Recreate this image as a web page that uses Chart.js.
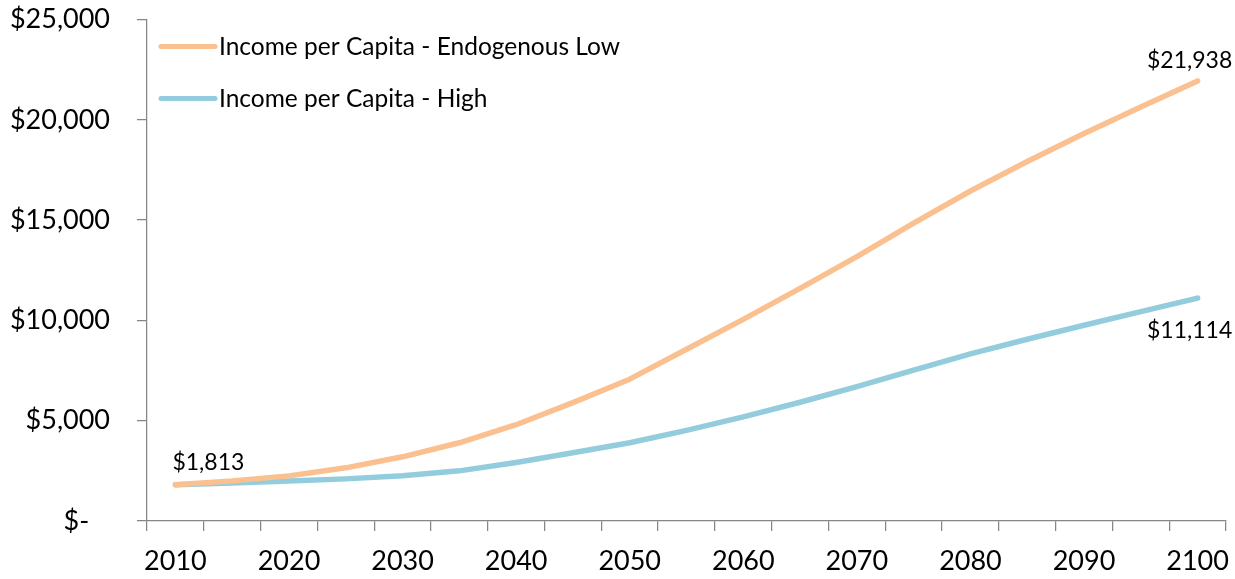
<!DOCTYPE html>
<html>
<head>
<meta charset="utf-8">
<title>Income per Capita</title>
<script src="https://cdn.jsdelivr.net/npm/chart.js@4.4.1/dist/chart.umd.min.js"></script>
<style>
  html, body { margin: 0; padding: 0; background: #ffffff; }
  canvas { display: block; }
</style>
</head>
<body>
<canvas id="chart" width="1235" height="579"></canvas>
<script>
// Five-year steps, 2010–2100
const years = [2010, 2015, 2020, 2025, 2030, 2035, 2040, 2045, 2050, 2055,
               2060, 2065, 2070, 2075, 2080, 2085, 2090, 2095, 2100];
// Years that carry a visible axis label
const labelledYears = [2010, 2020, 2030, 2040, 2050, 2060, 2070, 2080, 2090, 2100];

const endogenousLow = [1813, 2000, 2250, 2650, 3200, 3900, 4800, 5900, 7070, 8560,
                       10050, 11600, 13180, 14850, 16450, 17920, 19320, 20640, 21938];
const high = [1813, 1900, 2000, 2100, 2260, 2500, 2920, 3400, 3900, 4520,
              5190, 5920, 6700, 7520, 8330, 9060, 9760, 10440, 11114];

const seriesNames = ['Income per Capita - Endogenous Low', 'Income per Capita - High'];
const seriesColors = ['#FAC090', '#93CDDD'];

const yTickValues = [0, 5000, 10000, 15000, 20000, 25000];
const yTickLabels = ['$-', '$5,000', '$10,000', '$15,000', '$20,000', '$25,000'];

const AXIS_COLOR = '#868686';
const FONT = 'Lato';

const money = v => '$' + v.toLocaleString('en-US');

// Legend drawn inside the plot area, top-left, one entry per row
const insideLegend = {
  id: 'insideLegend',
  afterDraw(chart) {
    const { ctx, chartArea } = chart;
    ctx.save();
    ctx.font = '24.5px ' + FONT;
    ctx.fillStyle = '#000000';
    ctx.textAlign = 'left';
    ctx.textBaseline = 'alphabetic';
    chart.data.datasets.forEach((ds, i) => {
      const y = chartArea.top + 27 + i * 52;
      const x0 = chartArea.left + 14;
      ctx.strokeStyle = ds.borderColor;
      ctx.lineWidth = 5;
      ctx.lineCap = 'round';
      ctx.beginPath();
      ctx.moveTo(x0, y);
      ctx.lineTo(x0 + 54, y);
      ctx.stroke();
      ctx.fillText(ds.label, x0 + 58, y + 8);
    });
    ctx.restore();
  }
};

// Value labels at the first and last points
const valueLabels = {
  id: 'valueLabels',
  afterDatasetsDraw(chart) {
    const ctx = chart.ctx;
    const low = chart.getDatasetMeta(0).data;
    const hi = chart.getDatasetMeta(1).data;
    const last = years.length - 1;
    ctx.save();
    ctx.font = '23px ' + FONT;
    ctx.fillStyle = '#000000';
    ctx.textBaseline = 'middle';

    ctx.textAlign = 'left';
    ctx.fillText(money(high[0]), hi[0].x - 3, hi[0].y - 22);

    ctx.textAlign = 'center';
    ctx.fillText(money(endogenousLow[last]), low[last].x - 8, low[last].y - 20);
    ctx.fillText(money(high[last]), hi[last].x - 8, hi[last].y + 33);
    ctx.restore();
  }
};

Chart.defaults.font.family = FONT;
Chart.defaults.color = '#000000';

new Chart(document.getElementById('chart'), {
  type: 'line',
  data: {
    labels: years.map(String),
    datasets: [
      {
        label: seriesNames[0],
        data: endogenousLow,
        borderColor: seriesColors[0],
        backgroundColor: seriesColors[0],
        borderWidth: 5.5,
        borderCapStyle: 'round',
        borderJoinStyle: 'round',
        pointRadius: 0,
        tension: 0
      },
      {
        label: seriesNames[1],
        data: high,
        borderColor: seriesColors[1],
        backgroundColor: seriesColors[1],
        borderWidth: 5.5,
        borderCapStyle: 'round',
        borderJoinStyle: 'round',
        pointRadius: 0,
        tension: 0
      }
    ]
  },
  options: {
    responsive: false,
    animation: false,
    devicePixelRatio: 1,
    layout: { padding: { top: 19.5, right: 9, bottom: 0, left: 0 } },
    plugins: {
      legend: { display: false },
      tooltip: { enabled: false }
    },
    scales: {
      x: {
        type: 'category',
        offset: true,
        grid: {
          offset: true,
          drawOnChartArea: false,
          drawTicks: true,
          tickLength: 10,
          color: AXIS_COLOR,
          lineWidth: 1.25
        },
        border: { display: true, color: AXIS_COLOR, width: 1.25 },
        ticks: {
          autoSkip: false,
          maxRotation: 0,
          minRotation: 0,
          padding: 14,
          font: { size: 27 },
          color: '#000000',
          callback(value, index) {
            const yr = years[index];
            return labelledYears.includes(yr) ? String(yr) : '';
          }
        },
        afterFit(scale) {
          scale.height = 58;
          scale.paddingLeft = 0;
          scale.paddingRight = 0;
        }
      },
      y: {
        min: 0,
        max: 25000,
        grid: {
          drawOnChartArea: false,
          drawTicks: true,
          tickLength: 10,
          color: AXIS_COLOR,
          lineWidth: 1.25
        },
        border: { display: true, color: AXIS_COLOR, width: 1.25 },
        ticks: {
          stepSize: 5000,
          padding: 27,
          font: { size: 27 },
          color: '#000000',
          callback(value) {
            const i = yTickValues.indexOf(value);
            const text = i >= 0 ? yTickLabels[i] : money(value);
            // accounting-style zero sits left of the digit column
            return value === 0 ? text + '   ' : text;
          }
        },
        afterFit(scale) {
          scale.width = 147;
          scale.paddingTop = 0;
          scale.paddingBottom = 0;
        }
      }
    }
  },
  plugins: [valueLabels, insideLegend]
});
</script>
</body>
</html>
